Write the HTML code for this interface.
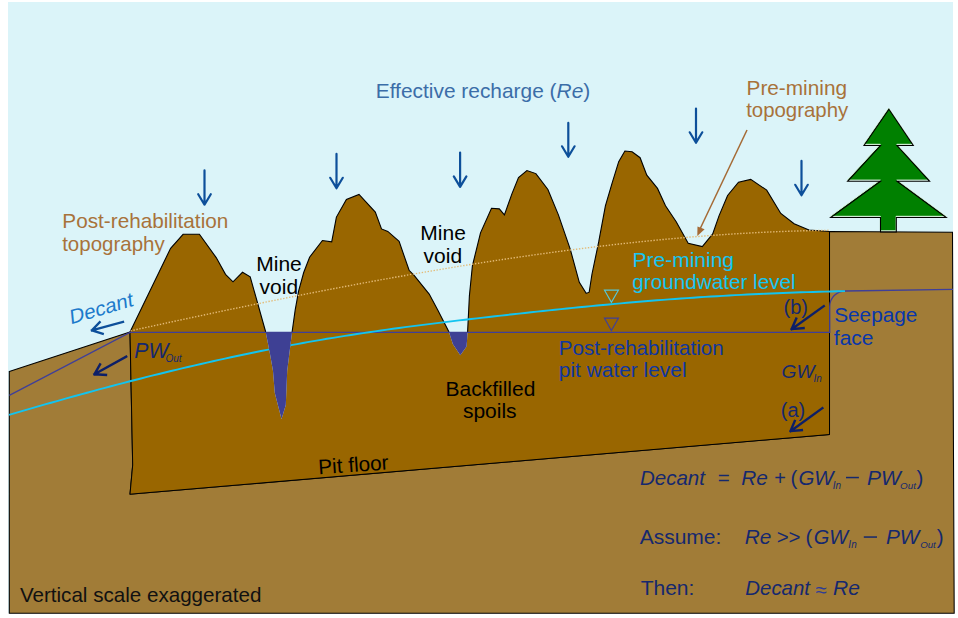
<!DOCTYPE html>
<html><head><meta charset="utf-8"><style>
html,body{margin:0;padding:0;background:#fff;}
svg{display:block;}
text{font-family:"Liberation Sans",sans-serif;}
</style></head><body>
<svg width="958" height="618" viewBox="0 0 958 618">
<rect x="8" y="2" width="945" height="611" fill="#DBF4F9"/>
<polygon points="9.3,371.5 130,332 132.7,465 130,494.2 829.5,434.5 829.5,231.5 952.5,232.2 954.2,613.3 9.3,613.3" fill="#A17C37" stroke="#000" stroke-width="1.05"/>
<polygon points="130,332 170.6,248.3 183.1,234.3 199.4,234.3 216.2,257.6 225.5,274.3 233,281.8 242.5,272.3 250.2,276.8 265.7,332 265.7,332 270,354 273,371 274.8,393 281.5,419 285.8,405 287.2,371 291,340.4 292.1,332 292.1,332 295.2,309.9 298.6,291.2 303.7,272.5 309.6,257.2 322.4,240.5 331.7,241.9 336.4,217.1 346.4,199.5 359,194.5 375.3,212.1 381.5,228.9 387.8,231.4 399.1,241.4 409.1,270.3 414.1,275.3 429.2,294.1 438,310.4 449,332 449,332 452.8,343.9 460.3,355.2 466.6,346.4 467.6,332 467.6,332 469.4,295.8 472.4,265.8 480.5,232.9 491.5,208.3 499.3,208.9 504.4,214.9 511.9,193.9 518.5,177.5 526.9,170.6 535.9,173.6 547.9,189.5 558.4,214.9 570.3,249.4 579.3,282.3 586.2,293.4 589.2,292.2 592,274 598.7,241.9 605.4,205.8 612.1,183.1 618.7,161.7 624.9,151 632.1,151.8 640.1,157.7 646.8,175.1 657.5,188.4 665.5,205.8 676.2,221.8 688.2,243.2 702.3,246.6 712.7,233.9 719,215.9 727.6,195.5 738.5,182.2 750.7,179.4 766.7,190.1 780.8,213.5 794.1,223.7 809,230 829.5,231.5 829.5,434.5 130,494.2 132.7,465" fill="#996600"/>
<polyline points="130,332 170.6,248.3 183.1,234.3 199.4,234.3 216.2,257.6 225.5,274.3 233,281.8 242.5,272.3 250.2,276.8 265.7,332" fill="none" stroke="#000" stroke-width="1.1"/>
<polyline points="292.1,332 295.2,309.9 298.6,291.2 303.7,272.5 309.6,257.2 322.4,240.5 331.7,241.9 336.4,217.1 346.4,199.5 359,194.5 375.3,212.1 381.5,228.9 387.8,231.4 399.1,241.4 409.1,270.3 414.1,275.3 429.2,294.1 438,310.4 449,332" fill="none" stroke="#000" stroke-width="1.1"/>
<polyline points="467.6,332 469.4,295.8 472.4,265.8 480.5,232.9 491.5,208.3 499.3,208.9 504.4,214.9 511.9,193.9 518.5,177.5 526.9,170.6 535.9,173.6 547.9,189.5 558.4,214.9 570.3,249.4 579.3,282.3 586.2,293.4 589.2,292.2 592,274 598.7,241.9 605.4,205.8 612.1,183.1 618.7,161.7 624.9,151 632.1,151.8 640.1,157.7 646.8,175.1 657.5,188.4 665.5,205.8 676.2,221.8 688.2,243.2 702.3,246.6 712.7,233.9 719,215.9 727.6,195.5 738.5,182.2 750.7,179.4 766.7,190.1 780.8,213.5 794.1,223.7 809,230 829.5,231.5" fill="none" stroke="#000" stroke-width="1.1"/>
<polyline points="130,332 132.7,465 130,494.2 829.5,434.5 829.5,231.5" fill="none" stroke="#000" stroke-width="1.0"/>
<polyline points="130.5,330.87 136.5,329.55 142.5,328.23 148.5,326.92 154.5,325.61 160.5,324.31 166.5,323.01 172.5,321.71 178.5,320.41 184.5,319.12 190.5,317.84 196.5,316.56 202.5,315.28 208.5,314.01 214.5,312.74 220.5,311.47 226.5,310.21 232.5,308.96 238.5,307.71 244.5,306.47 250.5,305.23 256.5,303.99 262.5,302.77 268.5,301.54 274.5,300.33 280.5,299.12 286.5,297.91 292.5,296.71 298.5,295.52 304.5,294.33 310.5,293.15 316.5,291.98 322.5,290.81 328.5,289.65 334.5,288.50 340.5,287.36 346.5,286.22 352.5,285.08 358.5,283.96 364.5,282.84 370.5,281.74 376.5,280.63 382.5,279.54 388.5,278.46 394.5,277.38 400.5,276.31 406.5,275.25 412.5,274.20 418.5,273.15 424.5,272.12 430.5,271.09 436.5,270.08 442.5,269.07 448.5,268.07 454.5,267.08 460.5,266.10 466.5,265.13 472.5,264.17 478.5,263.22 484.5,262.28 490.5,261.35 496.5,260.43 502.5,259.52 508.5,258.62 514.5,257.73 520.5,256.85 526.5,255.98 532.5,255.12 538.5,254.28 544.5,253.44 550.5,252.62 556.5,251.80 562.5,251.00 568.5,250.21 574.5,249.44 580.5,248.67 586.5,247.92 592.5,247.18 598.5,246.46 604.5,245.74 610.5,245.04 616.5,244.35 622.5,243.68 628.5,243.02 634.5,242.38 640.5,241.75 646.5,241.13 652.5,240.53 658.5,239.94 664.5,239.37 670.5,238.81 676.5,238.27 682.5,237.75 688.5,237.24 694.5,236.74 700.5,236.27 706.5,235.81 712.5,235.36 718.5,234.93 724.5,234.52 730.5,234.13 736.5,233.75 742.5,233.40 748.5,233.06 754.5,232.73 760.5,232.43 766.5,232.14 772.5,231.88 778.5,231.63 784.5,231.40 790.5,231.19 796.5,231.00 802.5,230.83 808.5,230.68 814.5,230.54 820.5,230.43 826.5,230.34 829.0,230.31" fill="none" stroke="#E3BA76" stroke-width="1.4" stroke-dasharray="1.4 1.6"/>
<path d="M9.3,395.3 L130,332.3 L829.7,332.3 L829.7,306.5 A15.5,15.5 0 0 1 845.2,291 L953,289.4" fill="none" stroke="#3F3F99" stroke-width="1.3"/>
<polyline points="9,414.93 15,413.16 21,411.40 27,409.65 33,407.91 39,406.17 45,404.45 51,402.74 57,401.04 63,399.35 69,397.67 75,396.01 81,394.35 87,392.71 93,391.07 99,389.45 105,387.85 111,386.25 117,384.67 123,383.10 129,381.54 135,380.00 141,378.47 147,376.95 153,375.45 159,373.96 165,372.49 171,371.03 177,369.58 183,368.15 189,366.74 195,365.34 201,363.95 207,362.59 213,361.23 219,359.90 225,358.58 231,357.27 237,355.98 243,354.71 249,353.46 255,352.23 261,351.01 267,349.81 273,348.62 279,347.46 285,346.31 291,345.18 297,344.07 303,342.98 309,341.91 315,340.86 321,339.83 327,338.81 333,337.82 339,336.84 345,335.88 351,334.94 357,334.02 363,333.11 369,332.22 375,331.35 381,330.48 387,329.64 393,328.81 399,327.99 405,327.18 411,326.39 417,325.60 423,324.83 429,324.07 435,323.32 441,322.58 447,321.85 453,321.13 459,320.42 465,319.71 471,319.01 477,318.32 483,317.63 489,316.95 495,316.27 501,315.60 507,314.94 513,314.27 519,313.62 525,312.96 531,312.31 537,311.67 543,311.03 549,310.39 555,309.77 561,309.15 567,308.53 573,307.92 579,307.32 585,306.73 591,306.15 597,305.57 603,305.00 609,304.44 615,303.89 621,303.35 627,302.82 633,302.30 639,301.79 645,301.29 651,300.80 657,300.32 663,299.85 669,299.40 675,298.96 681,298.53 687,298.11 693,297.70 699,297.30 705,296.92 711,296.55 717,296.19 723,295.84 729,295.50 735,295.17 741,294.86 747,294.55 753,294.26 759,293.98 765,293.71 771,293.45 777,293.20 783,292.96 789,292.74 795,292.52 801,292.31 807,292.12 813,291.93 819,291.76 825,291.60 831,291.44 837,291.30 843,291.17 845,291.13" fill="none" stroke="#12C4F0" stroke-width="1.9"/>
<polygon points="265.7,332 270,354 273,371 274.8,393 281.5,419 285.8,405 287.2,371 291,340.4 292.1,332" fill="#3E4094"/>
<polygon points="449,332 452.8,343.9 460.3,355.2 466.6,346.4 467.6,332" fill="#3E4094"/>
<polygon points="604.5,290.2 618.4,290.2 611.4,302.4" fill="none" stroke="#55C8D8" stroke-width="1.2"/>
<polygon points="604.5,318.2 618.4,318.2 611.4,330.6" fill="none" stroke="#3F3F99" stroke-width="1.2"/>
<path d="M204.5,170.4 L204.5,204.70000000000002 M198.2,194.20000000000002 L204.5,204.70000000000002 L210.8,194.20000000000002" stroke="#0D4F9A" stroke-width="2.2" fill="none" stroke-linecap="round" stroke-linejoin="round"/><path d="M336.5,153.9 L336.5,188.3 M330.2,177.8 L336.5,188.3 L342.8,177.8" stroke="#0D4F9A" stroke-width="2.2" fill="none" stroke-linecap="round" stroke-linejoin="round"/><path d="M460.1,152.5 L460.1,186.9 M453.8,176.4 L460.1,186.9 L466.40000000000003,176.4" stroke="#0D4F9A" stroke-width="2.2" fill="none" stroke-linecap="round" stroke-linejoin="round"/><path d="M568.3,122.89999999999999 L568.3,156.8 M562.0,146.3 L568.3,156.8 L574.5999999999999,146.3" stroke="#0D4F9A" stroke-width="2.2" fill="none" stroke-linecap="round" stroke-linejoin="round"/><path d="M696,108.6 L696,142.8 M689.7,132.3 L696,142.8 L702.3,132.3" stroke="#0D4F9A" stroke-width="2.2" fill="none" stroke-linecap="round" stroke-linejoin="round"/><path d="M801.5,160.9 L801.5,195.3 M795.2,184.8 L801.5,195.3 L807.8,184.8" stroke="#0D4F9A" stroke-width="2.2" fill="none" stroke-linecap="round" stroke-linejoin="round"/>
<polygon points="888.9,109.1 913.3,145.3 897,145.3 929.6,181.1 897,181.1 946.2,217.3 896.3,217.3 896.3,231.8 880.5,231.8 880.5,217.3 830.7,217.3 880.5,181.1 847.6,181.1 880.5,145.3 864,145.3" fill="#008000" stroke="#D8F0D8" stroke-width="1.0" transform="translate(-0.2,-1.0)"/>
<polygon points="888.9,109.1 913.3,145.3 897,145.3 929.6,181.1 897,181.1 946.2,217.3 896.3,217.3 896.3,231.8 880.5,231.8 880.5,217.3 830.7,217.3 880.5,181.1 847.6,181.1 880.5,145.3 864,145.3" fill="none" stroke="#000" stroke-width="1.1" transform="translate(0,0.2)"/>
<line x1="747" y1="130" x2="700" y2="229" stroke="#A56A35" stroke-width="1.5"/>
<polygon points="697.3,236 697.5,226.4 704.6,229.3" fill="#A56A35"/>
<path d="M123.03,321.88 L91.83,330.34 M99.72,322.20 L91.83,330.34 L102.74,333.70" stroke="#0D4F9A" stroke-width="2.3" fill="none" stroke-linecap="square" stroke-linejoin="round"/>
<path d="M126.17,356.65 L94.36,374.30 M100.04,364.42 L94.36,374.30 L105.98,374.96" stroke="#0C1F68" stroke-width="2.4" fill="none" stroke-linecap="square" stroke-linejoin="round"/>
<path d="M823.81,306.12 L791.57,329.16 M796.21,318.66 L791.57,329.16 L803.58,328.16" stroke="#0C1F68" stroke-width="2.4" fill="none" stroke-linecap="square" stroke-linejoin="round"/>
<path d="M822.42,408.12 L790.47,431.16 M794.72,420.96 L790.47,431.16 L801.88,430.16" stroke="#0C1F68" stroke-width="2.4" fill="none" stroke-linecap="square" stroke-linejoin="round"/>
<text id="t_eff" x="375.74" y="97.80" fill="#3B6DA8" font-size="21.1" transform="translate(375.74,0) scale(0.9905,1) translate(-375.74,0)" >Effective recharge (<tspan font-style="italic">Re</tspan>)</text><text id="t_pm1" x="746.53" y="94.80" fill="#A8723A" font-size="21.1" transform="translate(746.53,0) scale(0.9858,1) translate(-746.53,0)" >Pre-mining</text><text id="t_pm2" x="746.18" y="117.30" fill="#A8723A" font-size="21.1" transform="translate(746.18,0) scale(0.9668,1) translate(-746.18,0)" >topography</text><text id="t_pr1" x="62.36" y="227.70" fill="#A8723A" font-size="21.1" transform="translate(62.36,0) scale(0.9834,1) translate(-62.36,0)" >Post-rehabilitation</text><text id="t_pr2" x="62.18" y="251.30" fill="#A8723A" font-size="21.1" transform="translate(62.18,0) scale(0.9716,1) translate(-62.18,0)" >topography</text><text id="t_mv1" x="256.30" y="270.90" fill="#000" font-size="21.1" transform="translate(256.30,0) scale(0.9953,1) translate(-256.30,0)" >Mine</text><text id="t_mv2" x="259.58" y="293.70" fill="#000" font-size="21.1" transform="translate(259.58,0) scale(0.9953,1) translate(-259.58,0)" >void</text><text id="t_mv3" x="420.30" y="239.80" fill="#000" font-size="21.1" transform="translate(420.30,0) scale(0.9953,1) translate(-420.30,0)" >Mine</text><text id="t_mv4" x="423.57" y="262.70" fill="#000" font-size="21.1" transform="translate(423.57,0) scale(0.9953,1) translate(-423.57,0)" >void</text><text id="t_gw1" x="632.50" y="266.80" fill="#14C6F2" font-size="21.1" transform="translate(632.50,0) scale(0.9953,1) translate(-632.50,0)" >Pre-mining</text><text id="t_gw2" x="632.32" y="289.30" fill="#14C6F2" font-size="21.1" transform="translate(632.32,0) scale(0.9810,1) translate(-632.32,0)" >groundwater level</text><text id="t_pw1" x="558.79" y="354.70" fill="#0E36A0" font-size="21.1" transform="translate(558.79,0) scale(0.9763,1) translate(-558.79,0)" >Post-rehabilitation</text><text id="t_pw2" x="558.81" y="377.30" fill="#0E36A0" font-size="21.1" transform="translate(558.81,0) scale(0.9905,1) translate(-558.81,0)" >pit water level</text><text id="t_sp1" x="834.20" y="321.90" fill="#0836AA" font-size="21.1" transform="translate(834.20,0) scale(0.9858,1) translate(-834.20,0)" >Seepage</text><text id="t_sp2" x="833.83" y="344.70" fill="#0836AA" font-size="21.1" transform="translate(833.83,0) scale(0.9953,1) translate(-833.83,0)" >face</text><text id="t_bf1" x="445.50" y="395.80" fill="#000" font-size="21.1" transform="translate(445.50,0) scale(0.9953,1) translate(-445.50,0)" >Backfilled</text><text id="t_bf2" x="462.92" y="418.40" fill="#000" font-size="21.1" transform="translate(462.92,0) scale(0.9953,1) translate(-462.92,0)" >spoils</text><text id="t_b" x="783.51" y="313.80" fill="#15286E" font-size="20" >(b)</text><text id="t_a" x="780.81" y="416.90" fill="#15286E" font-size="20" >(a)</text><text id="t_vse" x="19.90" y="601.80" fill="#111" font-size="21.1" transform="translate(19.90,0) scale(0.9763,1) translate(-19.90,0)" >Vertical scale exaggerated</text><text id="t_pw" x="134.37" y="357.90" fill="#15286E" font-size="21.2" font-style="italic">PW</text><text id="t_out" x="165.38" y="361.80" fill="#15286E" font-size="10" font-style="italic">Out</text><text id="t_gw" x="781.57" y="377.70" fill="#15286E" font-size="19.2" font-style="italic">GW</text><text id="t_in" x="813.40" y="381.80" fill="#15286E" font-size="10" font-style="italic">In</text><text id="e1a" x="640.00" y="485.00" fill="#15286E" font-size="21.1" transform="translate(640.00,0) scale(0.9716,1) translate(-640.00,0)" font-style="italic">Decant</text><text id="e1b" x="717.81" y="485.00" fill="#15286E" font-size="21.1" transform="translate(717.81,0) scale(0.9763,1) translate(-717.81,0)" >=</text><text id="e1c" x="741.32" y="485.00" fill="#15286E" font-size="21.1" transform="translate(741.32,0) scale(0.9858,1) translate(-741.32,0)" font-style="italic">Re</text><text id="e1d" x="774.31" y="485.00" fill="#15286E" font-size="21.1" transform="translate(774.31,0) scale(0.9479,1) translate(-774.31,0)" >+</text><text id="e1e" x="790.55" y="485.00" fill="#15286E" font-size="21.1" transform="translate(790.55,0) scale(0.9716,1) translate(-790.55,0)" >(</text><text id="e1f" x="798.38" y="485.00" fill="#15286E" font-size="21.1" transform="translate(798.38,0) scale(0.9668,1) translate(-798.38,0)" font-style="italic">GW</text><text id="e1g" x="832.73" y="489.00" fill="#15286E" font-size="10" font-style="italic">In</text><text id="e1h" x="866.90" y="485.00" fill="#15286E" font-size="21.1" transform="translate(866.90,0) scale(0.9953,1) translate(-866.90,0)" font-style="italic">PW</text><text id="e1i" x="900.12" y="489.00" fill="#15286E" font-size="9.8" font-style="italic">Out</text><text id="e1j" x="916.61" y="485.00" fill="#15286E" font-size="21.1" transform="translate(916.61,0) scale(0.9716,1) translate(-916.61,0)" >)</text><text id="e2a" x="639.69" y="543.60" fill="#15286E" font-size="21.1" transform="translate(639.69,0) scale(0.9953,1) translate(-639.69,0)" >Assume:</text><text id="e2b" x="744.68" y="543.60" fill="#15286E" font-size="21.1" transform="translate(744.68,0) scale(0.9858,1) translate(-744.68,0)" font-style="italic">Re</text><text id="e2c" x="776.65" y="543.60" fill="#15286E" font-size="21.1" transform="translate(776.65,0) scale(0.9716,1) translate(-776.65,0)" >&gt;&gt;</text><text id="e2d" x="805.55" y="543.60" fill="#15286E" font-size="21.1" transform="translate(805.55,0) scale(0.9716,1) translate(-805.55,0)" >(</text><text id="e2e" x="813.66" y="543.60" fill="#15286E" font-size="21.1" transform="translate(813.66,0) scale(0.9479,1) translate(-813.66,0)" font-style="italic">GW</text><text id="e2f" x="848.37" y="548.00" fill="#15286E" font-size="10" font-style="italic">In</text><text id="e2h" x="885.98" y="543.60" fill="#15286E" font-size="21.1" transform="translate(885.98,0) scale(0.9858,1) translate(-885.98,0)" font-style="italic">PW</text><text id="e2i" x="920.13" y="548.00" fill="#15286E" font-size="9.7" font-style="italic">Out</text><text id="e2j" x="936.68" y="543.60" fill="#15286E" font-size="21.1" transform="translate(936.68,0) scale(0.9716,1) translate(-936.68,0)" >)</text><text id="e3a" x="640.67" y="594.80" fill="#15286E" font-size="21.1" transform="translate(640.67,0) scale(0.9953,1) translate(-640.67,0)" >Then:</text><text id="e3b" x="745.34" y="594.80" fill="#15286E" font-size="21.1" transform="translate(745.34,0) scale(0.9668,1) translate(-745.34,0)" font-style="italic">Decant</text><text id="e3c" x="815.18" y="597.10" fill="#2E3C96" font-size="20.5" >≈</text><text id="e3d" x="832.98" y="594.80" fill="#15286E" font-size="21.1" transform="translate(832.98,0) scale(0.9953,1) translate(-832.98,0)" font-style="italic">Re</text>
<text x="318.7" y="474.3" fill="#000" font-size="20.8" transform="rotate(-4 318.7 474.3)">Pit floor</text>
<text x="0" y="0" fill="#1C7ACB" font-size="20.45" transform="translate(70.5,324.5) rotate(-5.6) skewY(-10.9)">Decant</text>
<rect x="846" y="476.8" width="12.9" height="1.5" fill="#15286E"/>
<rect x="863.8" y="536.3" width="13.2" height="1.5" fill="#15286E"/>
</svg>
</body></html>
